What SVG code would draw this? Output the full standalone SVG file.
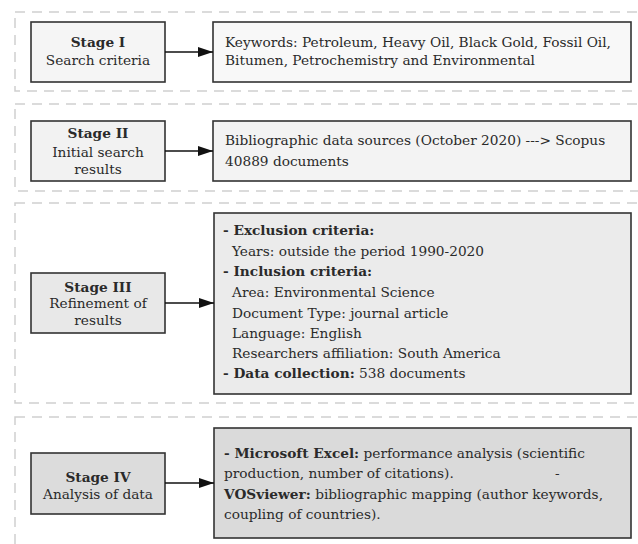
<svg xmlns="http://www.w3.org/2000/svg" width="638" height="544" viewBox="0 0 638 544">
  <defs>
    <marker id="arrow" viewBox="0 0 15 10" refX="15" refY="5" markerWidth="15" markerHeight="10" markerUnits="userSpaceOnUse" orient="auto">
      <path d="M0,0 L15,5 L0,10 z" fill="#111"/>
    </marker>
    <style>
      .lane { fill: none; stroke: #cfcfcf; stroke-width: 1.5; stroke-dasharray: 10 7; }
      .box { stroke: #333; stroke-width: 1.6; }
      .t { font-family: "DejaVu Serif", "Liberation Serif", serif; font-size: 13.7px; fill: #2a2a2a; }
      .c { text-anchor: middle; }
      .b { font-weight: bold; }
      .link { stroke: #111; stroke-width: 1.5; fill: none; marker-end: url(#arrow); }
    </style>
  </defs>
  <rect width="638" height="544" fill="#ffffff"/>

  <!-- dashed stage lanes -->
  <g id="lanes">
    <rect class="lane" x="15" y="12" width="660" height="79"/>
    <rect class="lane" x="15" y="104" width="660" height="87"/>
    <rect class="lane" x="15" y="203" width="660" height="200"/>
    <rect class="lane" x="15" y="417" width="660" height="160"/>
  </g>

  <!-- Stage I -->
  <g id="stage1">
    <rect class="box" x="31" y="22" width="134" height="60" fill="#f5f5f5"/>
    <text class="t c b" x="98" y="47">Stage I</text>
    <text class="t c" x="98" y="65">Search criteria</text>
  </g>
  <g id="keywords">
    <rect class="box" x="213" y="22" width="418" height="60" fill="#f8f8f8"/>
    <text class="t" x="225" y="47">Keywords: Petroleum, Heavy Oil, Black Gold, Fossil Oil,</text>
    <text class="t" x="225" y="65">Bitumen, Petrochemistry and Environmental</text>
  </g>

  <!-- Stage II -->
  <g id="stage2">
    <rect class="box" x="31" y="121" width="134" height="60" fill="#f2f2f2"/>
    <text class="t c b" x="98" y="138">Stage II</text>
    <text class="t c" x="98" y="157">Initial search</text>
    <text class="t c" x="98" y="174">results</text>
  </g>
  <g id="sources">
    <rect class="box" x="213" y="121" width="418" height="60" fill="#f3f3f3"/>
    <text class="t" x="225" y="145">Bibliographic data sources (October 2020) ---&gt; Scopus</text>
    <text class="t" x="225" y="166">40889 documents</text>
  </g>

  <!-- Stage III -->
  <g id="stage3">
    <rect class="box" x="31" y="273" width="134" height="60" fill="#e8e8e8"/>
    <text class="t c b" x="98" y="292">Stage III</text>
    <text class="t c" x="98" y="308">Refinement of</text>
    <text class="t c" x="98" y="325">results</text>
  </g>
  <g id="criteria">
    <rect class="box" x="214" y="213" width="417" height="181" fill="#ebebeb"/>
    <text class="t" x="223" y="235"><tspan class="b">- Exclusion criteria:</tspan></text>
    <text class="t" x="232" y="256">Years: outside the period 1990-2020</text>
    <text class="t" x="223" y="276"><tspan class="b">- Inclusion criteria:</tspan></text>
    <text class="t" x="232" y="297">Area: Environmental Science</text>
    <text class="t" x="232" y="318">Document Type: journal article</text>
    <text class="t" x="232" y="338">Language: English</text>
    <text class="t" x="232" y="358">Researchers affiliation: South America</text>
    <text class="t" x="223" y="378"><tspan class="b">- Data collection:</tspan> 538 documents</text>
  </g>

  <!-- Stage IV -->
  <g id="stage4">
    <rect class="box" x="31" y="453" width="134" height="61" fill="#dcdcdc"/>
    <text class="t c b" x="98" y="482">Stage IV</text>
    <text class="t c" x="98" y="499">Analysis of data</text>
  </g>
  <g id="tools">
    <rect class="box" x="214" y="428" width="417" height="110" fill="#dadada"/>
    <text class="t" x="224" y="458"><tspan class="b">- Microsoft Excel:</tspan> performance analysis (scientific</text>
    <text class="t" x="224" y="478">production, number of citations).</text>
    <text class="t" x="555" y="478">-</text>
    <text class="t" x="224" y="499"><tspan class="b">VOSviewer:</tspan> bibliographic mapping (author keywords,</text>
    <text class="t" x="224" y="519">coupling of countries).</text>
  </g>

  <!-- connectors -->
  <g id="connectors">
    <line class="link" x1="165" y1="52" x2="213" y2="52"/>
    <line class="link" x1="165" y1="151" x2="213" y2="151"/>
    <line class="link" x1="165" y1="303" x2="214" y2="303"/>
    <line class="link" x1="165" y1="483" x2="214" y2="483"/>
  </g>
</svg>
